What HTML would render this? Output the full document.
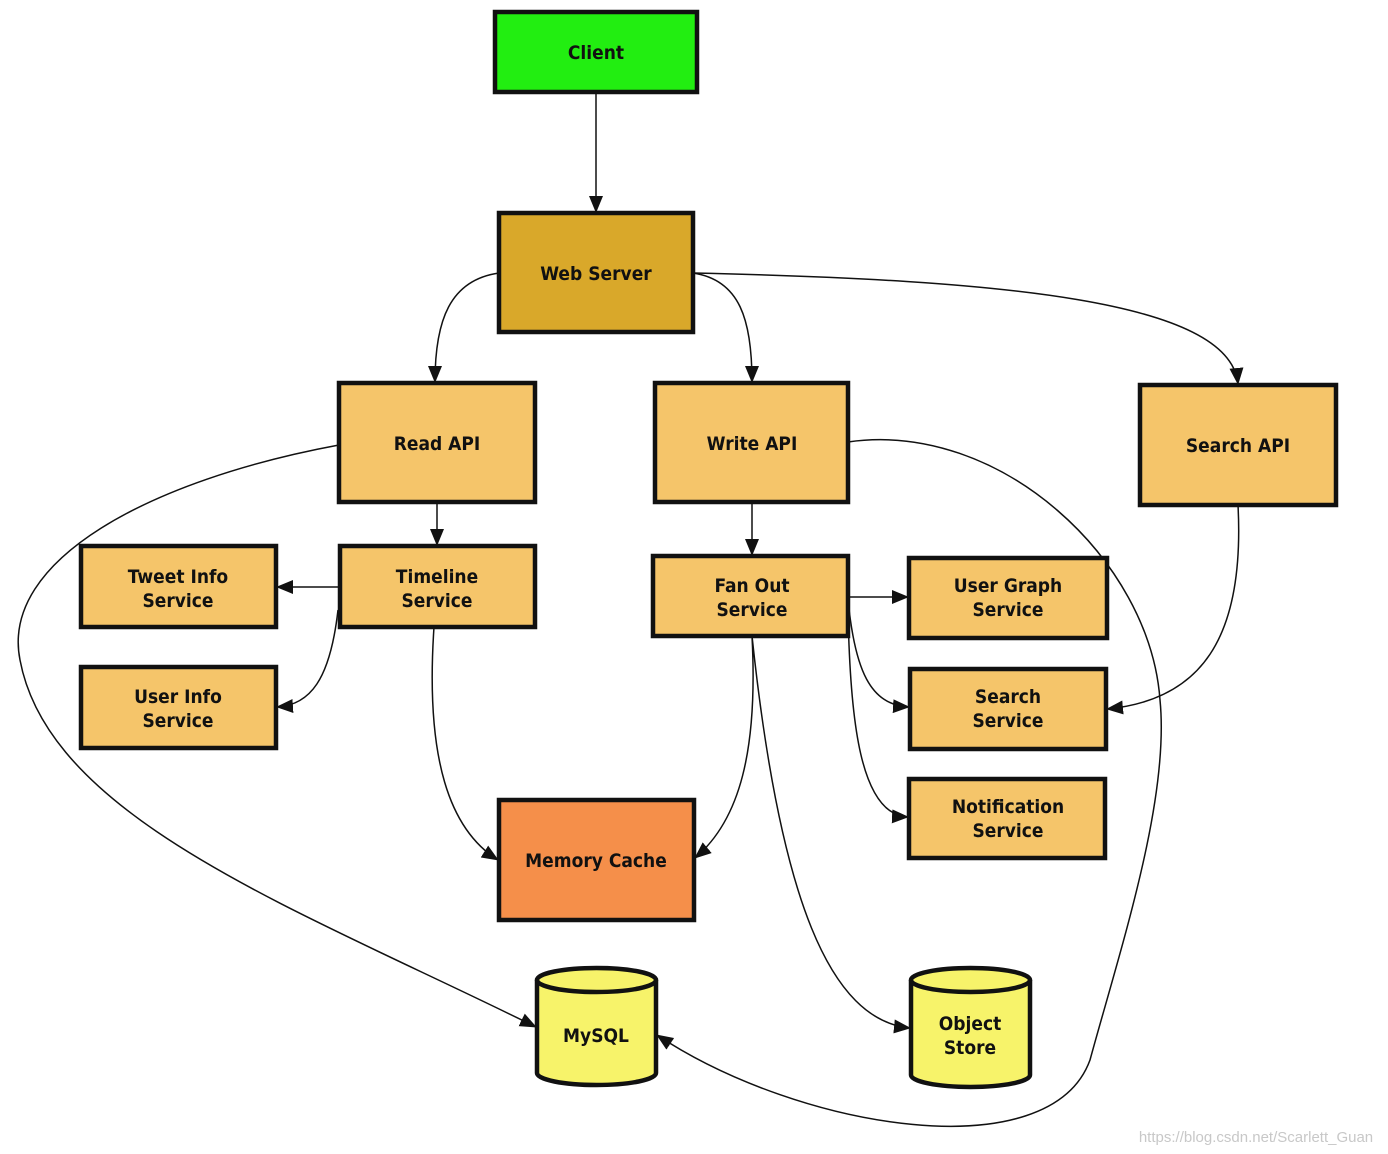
<!DOCTYPE html>
<html><head><meta charset="utf-8"><style>
html,body{margin:0;padding:0;background:#fff;}
svg{display:block;}
text{font-family:"DejaVu Sans Condensed","DejaVu Sans","Liberation Sans",sans-serif;font-weight:bold;font-size:19px;fill:#111;text-anchor:middle;}
.b{stroke:#111;stroke-width:4.5;}
.e{fill:none;stroke:#111;stroke-width:1.5;marker-end:url(#a);}
</style></head><body>
<svg width="1388" height="1154" viewBox="0 0 1388 1154">
<defs><marker id="a" markerWidth="17" markerHeight="14" refX="16" refY="7" orient="auto" markerUnits="userSpaceOnUse"><path d="M0,0 L17,7 L0,14 Z" fill="#111"/></marker></defs>

<path class="e" d="M596,92 L596,212"/>
<path class="e" d="M499,273 C450,280 435,320 435,382"/>
<path class="e" d="M693,273 C740,280 752,320 752,382"/>
<path class="e" d="M693,273 C1000,280 1230,300 1238,384"/>
<path class="e" d="M437,502 L437,545"/>
<path class="e" d="M340,587 L277,587"/>
<path class="e" d="M338,610 C330,680 310,705 277,707"/>
<path class="e" d="M434,627 C425,760 450,830 498,860"/>
<path class="e" d="M339,445 C150,480 0,560 20,660 C50,820 300,910 536,1027"/>
<path class="e" d="M848,442 C1000,420 1150,560 1160,700 C1170,800 1120,950 1090,1060 C1050,1170 800,1130 657,1035"/>
<path class="e" d="M752,502 L752,555"/>
<path class="e" d="M848,597 L908,597"/>
<path class="e" d="M848,600 C855,670 870,705 909,707"/>
<path class="e" d="M848,610 C850,720 860,815 908,817"/>
<path class="e" d="M752,636 C758,750 740,820 695,858"/>
<path class="e" d="M752,636 C780,900 830,1020 910,1028"/>
<path class="e" d="M1238,505 C1245,640 1200,700 1107,709"/>

<rect class="b" x="495" y="12" width="202" height="80" fill="#22ee11"/>
<text x="596" y="59">Client</text>
<rect class="b" x="499" y="213" width="194" height="119" fill="#d9a82a"/>
<text x="596" y="280">Web Server</text>
<rect class="b" x="339" y="383" width="196" height="119" fill="#f5c56a"/>
<text x="437" y="450">Read API</text>
<rect class="b" x="655" y="383" width="193" height="119" fill="#f5c56a"/>
<text x="752" y="450">Write API</text>
<rect class="b" x="1140" y="385" width="196" height="120" fill="#f5c56a"/>
<text x="1238" y="452">Search API</text>
<rect class="b" x="81" y="546" width="195" height="81" fill="#f5c56a"/>
<text x="178" y="583">Tweet Info</text><text x="178" y="607">Service</text>
<rect class="b" x="340" y="546" width="195" height="81" fill="#f5c56a"/>
<text x="437" y="583">Timeline</text><text x="437" y="607">Service</text>
<rect class="b" x="81" y="667" width="195" height="81" fill="#f5c56a"/>
<text x="178" y="703">User Info</text><text x="178" y="727">Service</text>
<rect class="b" x="653" y="556" width="195" height="80" fill="#f5c56a"/>
<text x="752" y="592">Fan Out</text><text x="752" y="616">Service</text>
<rect class="b" x="909" y="558" width="198" height="80" fill="#f5c56a"/>
<text x="1008" y="592">User Graph</text><text x="1008" y="616">Service</text>
<rect class="b" x="910" y="669" width="196" height="80" fill="#f5c56a"/>
<text x="1008" y="703">Search</text><text x="1008" y="727">Service</text>
<rect class="b" x="909" y="779" width="196" height="79" fill="#f5c56a"/>
<text x="1008" y="813">Notification</text><text x="1008" y="837">Service</text>
<rect class="b" x="499" y="800" width="195" height="120" fill="#f58f4a"/>
<text x="596" y="867">Memory Cache</text>

<path class="b" d="M537,980 L537,1073 A59.5,12 0 0 0 656,1073 L656,980 A59.5,12 0 0 0 537,980 Z" fill="#f7f36a"/>
<path class="b" d="M537,980 A59.5,12 0 0 0 656,980" fill="none"/>
<text x="596" y="1042">MySQL</text>
<path class="b" d="M911,980 L911,1075 A59.5,12 0 0 0 1030,1075 L1030,980 A59.5,12 0 0 0 911,980 Z" fill="#f7f36a"/>
<path class="b" d="M911,980 A59.5,12 0 0 0 1030,980" fill="none"/>
<text x="970" y="1030">Object</text><text x="970" y="1054">Store</text>

<text x="1256" y="1142" style="font-family:'Liberation Sans',sans-serif;font-weight:normal;font-size:15px;fill:#c8c8c8;">https://blog.csdn.net/Scarlett_Guan</text>
</svg>
</body></html>
